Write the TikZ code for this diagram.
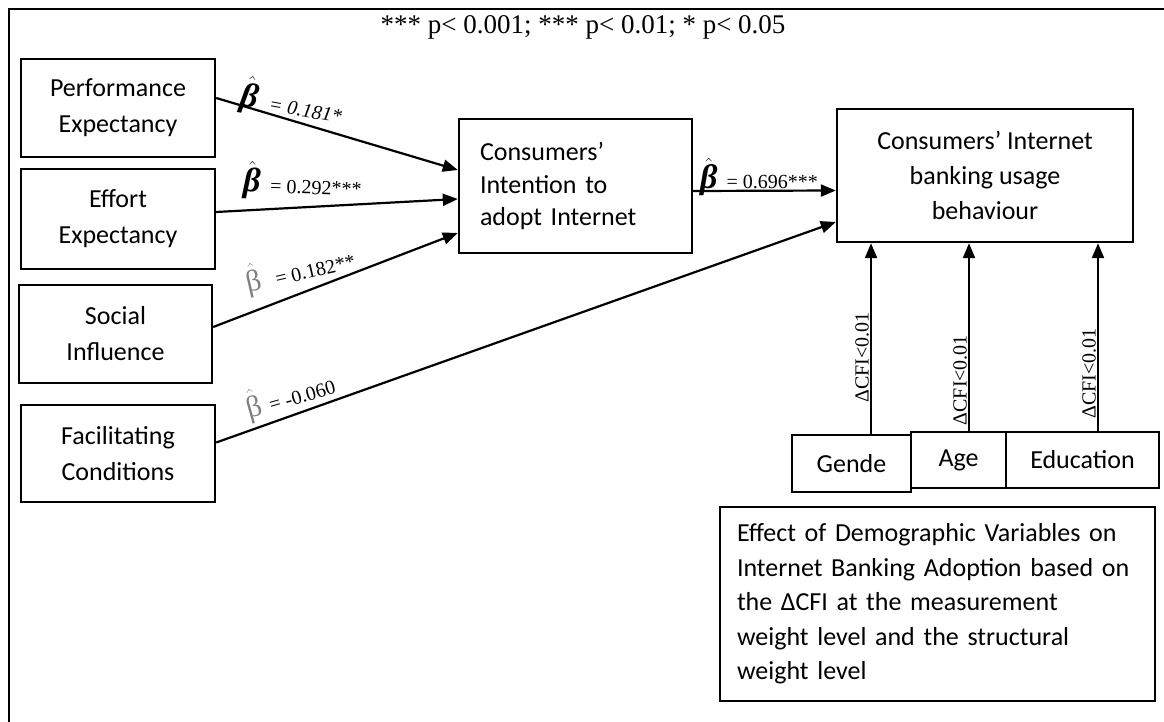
\documentclass[tikz,border=0pt]{standalone}
\usepackage{fontspec}
\setmainfont{Carlito}
\newfontfamily\tnr{Liberation Serif}
\usetikzlibrary{arrows.meta}

% beta with hat, as in the path labels
\newcommand{\bbeta}{{\fontsize{34}{34}\selectfont$\hat{\mbox{\bfseries\itshape β}}$}}
\newcommand{\gbeta}{{\fontsize{30}{30}\selectfont\color{gray}$\hat{\mbox{β}}$}}

\begin{document}
\begin{tikzpicture}[x=1pt, y=-1pt,
    box/.style={draw, line width=2.4pt, inner sep=0pt, align=center,
      font=\fontsize{26}{36}\selectfont},
    arr/.style={-{Triangle[length=15pt,width=12pt]}, line width=2.2pt},
    coef/.style={font=\tnr\fontsize{20}{20}\selectfont, inner sep=0pt, anchor=west},
    cfi/.style={font=\tnr\fontsize{20}{20}\selectfont, rotate=90, anchor=south, inner sep=1pt}]
    \useasboundingbox (0,0) rectangle (1164,722);
    \draw[line width=2.4pt] (9,722) -- (9,9) -- (1164,9);

    \node[font=\tnr\fontsize{27}{27}\selectfont] (sig) at (583,27) {*** p< 0.001; *** p< 0.01; * p< 0.05};

    % predictors
    \node[box, minimum width=194, minimum height=98] (pe) at (118,108) {Performance\\Expectancy};
    \node[box, minimum width=194, minimum height=100] (ee) at (118,219) {Effort\\Expectancy};
    \node[box, minimum width=193, minimum height=98] (si) at (115.5,334) {Social\\Influence};
    \node[box, minimum width=194, minimum height=97] (fc) at (118,453.5) {Facilitating\\Conditions};

    \node[box, align=left, text width=191, inner xsep=21, minimum height=134,
      font=\fontsize{26}{32.5}\selectfont] (intent) at (575.5,186) {Consumers’\\Intention to\\adopt Internet};
    \node[box, minimum width=296, minimum height=133,
      font=\fontsize{26}{35}\selectfont] (usage) at (985,175.5) {Consumers’ Internet\\banking usage\\behaviour};

    % demographics
    \node[box, minimum width=119, minimum height=57] (gender) at (851.5,463.5) {Gende};
    \node[box, minimum width=95, minimum height=56] (age) at (958.5,460) {Age};
    \node[box, minimum width=153, minimum height=56] (edu) at (1082.5,460) {Education};
    \node[box, align=left, text width=401, inner xsep=17, minimum height=194,
      font=\fontsize{26}{34.5}\selectfont] (note) at (937.5,604)
      {Effect of Demographic Variables on\\Internet Banking Adoption based on\\the ΔCFI at the measurement\\weight level and the structural\\weight level};

    \draw[arr] ([yshift=10]pe.east) -- ([yshift=16]intent.west);
    \draw[arr] ([yshift=7]ee.east) -- ([yshift=-13]intent.west);
    \draw[arr] ([yshift=7]si.east) -- ([yshift=-47]intent.west);
    \draw[arr] ([yshift=11]fc.east) -- ([yshift=-46.5]usage.west);
    \draw[arr] ([yshift=-5]intent.east) -- ([yshift=-15]usage.west);

    \coordinate (gtop) at ([xshift=19.5]gender.north);
    \coordinate (atop) at ([xshift=10.5]age.north);
    \coordinate (etop) at ([xshift=15.5]edu.north);
    \draw[arr] (gtop) -- node[cfi, pos=0.4] {ΔCFI<0.01} (gtop |- usage.south);
    \draw[arr] (atop) -- node[cfi, pos=0.27] {ΔCFI<0.01} (atop |- usage.south);
    \draw[arr] (etop) -- node[cfi, pos=0.305] {ΔCFI<0.01} (etop |- usage.south);

    \node[coef, rotate=-10] (b1) at (241,94) {\bbeta\hspace{12pt}{\itshape = 0.181*}};
    \node[coef, rotate=-2] (b2) at (243,180) {\bbeta\hspace{10pt}= 0.292***};
    \node[coef, rotate=13] (b3) at (246,282) {\gbeta\hspace{14pt}= 0.182**};
    \node[coef, rotate=16] (b4) at (246,408) {\gbeta\hspace{8pt}= -0.060};
    \node[coef] (b5) at (700,177) {\bbeta\hspace{9pt}= 0.696***};

  \end{tikzpicture}
\end{document}
